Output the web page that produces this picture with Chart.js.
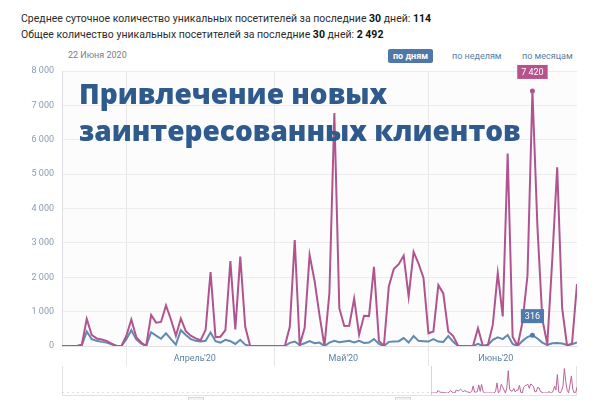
<!DOCTYPE html>
<html>
<head>
<meta charset="utf-8">
<script src="https://cdn.jsdelivr.net/npm/chart.js@4.4.1/dist/chart.umd.min.js"></script>
<style>
  body { margin: 0; width: 600px; height: 400px; background: #fff; position: relative; overflow: hidden; font-family: Roboto, "Open Sans", Arial, sans-serif; }
  .info { position: absolute; left: 21px; font-size: 10.5px; color: #2b2b2b; white-space: nowrap; }
  .info b { color: #111; }
  .date { position: absolute; left: 68px; top: 50px; font-size: 9px; color: #7d7d7d; }
  .btn { position: absolute; top: 49px; height: 14px; line-height: 14px; font-size: 9px; color: #5d7ea3; padding: 0 5px; border-radius: 2px; }
  .btn.on { background: #4f78a8; color: #fff; font-weight: bold; }
  #main { position: absolute; left: 0; top: 0; }
  .title { position: absolute; left: 79px; top: 75px; font-family: "Open Sans", sans-serif; font-weight: 800; font-size: 28px; line-height: 37px; color: #2e5a8d; white-space: nowrap; }
  .nav { position: absolute; left: 62px; top: 366px; width: 515px; height: 30px; border: 1px solid #e2e2e2; border-top: none; box-sizing: border-box; }
  .sel { position: absolute; left: 431px; top: 366px; width: 146px; height: 30px; border-left: 1px solid #d6d6d6; box-sizing: border-box; }
  #mini { position: absolute; left: 62px; top: 366px; }
  .chk { position: absolute; top: 397px; width: 14px; height: 8px; border: 1px solid #d8d8d8; background: #f2f2f2; }
</style>
</head>
<body>
<div class="info" style="top:12px">Среднее суточное количество уникальных посетителей за последние <b>30</b> дней: <b>114</b></div>
<div class="info" style="top:28px">Общее количество уникальных посетителей за последние <b>30</b> дней: <b>2 492</b></div>
<div class="date">22 Июня 2020</div>
<div class="btn on" style="left:388px">по дням</div>
<div class="btn" style="left:447px">по неделям</div>
<div class="btn" style="left:517px">по месяцам</div>

<canvas id="main" width="600" height="400"></canvas>
<div class="nav"></div>
<div class="sel"></div>
<canvas id="mini" width="515" height="30"></canvas>
<div class="chk" style="left:188px"></div>
<div class="chk" style="left:395px"></div>

<div class="title">Привлечение новых<br>заинтересованных клиентов</div>

<script>
// дни с 19 марта по 1 июля 2020
const views = [
  0, 0, 0, 0, 40, 790, 320, 220, 190, 150,
  70, 0, 0, 300, 770, 260, 100, 0, 900, 680,
  700, 1180, 770, 300, 800, 430, 300, 220, 170, 470,
  2150, 260, 270, 460, 2470, 480, 2600, 560, 0, 0,
  0, 0, 0, 0, 0, 0, 560, 3080, 30, 530,
  2650, 1900, 900, 0, 1540, 6780, 1100, 580, 590, 1380,
  330, 880, 870, 2300, 150, 0, 1730, 2240, 2380, 2630,
  1440, 2740, 2400, 1980, 370, 420, 1770, 1530, 420, 290,
  0, 0, 0, 0, 520, 0, 30, 620, 2120, 860,
  5600, 270, 0, 700, 2050, 7420, 3500, 780, 50, 2500,
  5200, 1100, 0, 80, 1800
];
const visitors = [
  0, 0, 0, 0, 20, 420, 200, 150, 120, 100,
  50, 0, 0, 200, 460, 190, 70, 0, 400, 300,
  210, 370, 200, 40, 460, 320, 200, 150, 130, 150,
  390, 140, 100, 180, 140, 60, 180, 40, 0, 0,
  0, 0, 0, 0, 0, 0, 90, 130, 30, 80,
  140, 80, 100, 0, 100, 150, 110, 130, 150, 100,
  150, 90, 100, 200, 60, 0, 120, 130, 140, 230,
  100, 290, 150, 140, 130, 200, 130, 120, 290, 120,
  0, 0, 0, 0, 60, 0, 30, 180, 250, 200,
  320, 60, 0, 150, 260, 316, 220, 100, 30, 80,
  90, 70, 30, 50, 100
];
// более ранний период на мини-графике (дни до 19 марта)
const historyDays = [-263, 0];
const historyViews = [0, 0];

const monthStarts = [13, 43, 74];           // 1 апреля, 1 мая, 1 июня
const monthLabelPos = [26.8, 56.8, 87.6];
const monthLabels = ["Апрель'20", "Май'20", "Июнь'20"];
const hoverIndex = 95;                      // 22 июня

const pink = '#b0548f';
const blue = '#6389b0';

const fmt = v => String(v).replace(/\B(?=(\d{3})+(?!\d))/g, ' ');

// фон области графика и подписи над точками выбранного дня
const hoverLabels = {
  id: 'hoverLabels',
  beforeDraw(chart) {
    const { ctx, chartArea: a } = chart;
    ctx.save();
    ctx.fillStyle = '#fcfcfd';
    ctx.fillRect(a.left, a.top, a.right - a.left, a.bottom - a.top);
    ctx.restore();
  },
  afterDatasetsDraw(chart) {
    const { ctx, scales } = chart;
    const x = scales.x.getPixelForValue(hoverIndex);
    const boxes = [
      { v: views[hoverIndex], c: '#b8528f' },
      { v: visitors[hoverIndex], c: '#4f7aab' }
    ];
    ctx.save();
    ctx.font = '9px Roboto, Arial, sans-serif';
    ctx.textAlign = 'center';
    ctx.textBaseline = 'middle';
    boxes.forEach(b => {
      const y = scales.y.getPixelForValue(b.v);
      const t = fmt(b.v);
      const w = ctx.measureText(t).width + 8;
      const h = 14;
      const by = y - 12 - h;
      ctx.fillStyle = b.c;
      ctx.fillRect(x - w / 2, by, w, h);
      ctx.fillStyle = '#fff';
      ctx.fillText(t, x, by + h / 2 + 0.5);
    });
    ctx.restore();
  }
};

new Chart(document.getElementById('main').getContext('2d'), {
  type: 'line',
  data: {
    datasets: [{
      label: 'Просмотры',
      data: views.map((v, i) => ({ x: i, y: v })),
      borderColor: pink,
      borderWidth: 2,
      pointRadius: c => c.dataIndex === hoverIndex ? 2.5 : 0,
      pointBackgroundColor: pink,
      pointBorderWidth: 0,
      tension: 0
    }, {
      label: 'Уникальные посетители',
      data: visitors.map((v, i) => ({ x: i, y: v })),
      borderColor: blue,
      borderWidth: 2,
      pointRadius: c => c.dataIndex === hoverIndex ? 2.5 : 0,
      pointBackgroundColor: '#4f7aab',
      pointBorderWidth: 0,
      tension: 0
    }]
  },
  options: {
    responsive: false,
    animation: false,
    layout: { padding: { top: 71, right: 23, left: 0, bottom: 0 } },
    plugins: { legend: { display: false }, tooltip: { enabled: false } },
    scales: {
      x: {
        type: 'linear',
        min: 0,
        max: 104,
        afterBuildTicks: s => {
          s.ticks = monthStarts.concat(monthLabelPos).sort((a, b) => a - b).map(v => ({ value: v }));
        },
        afterFit: s => { s.height = 54; },
        grid: {
          color: c => monthStarts.includes(c.tick && c.tick.value) ? '#e6e6e9' : 'rgba(0,0,0,0)',
          tickLength: 20
        },
        border: { color: '#e2e2e6' },
        ticks: {
          padding: -13,
          maxRotation: 0,
          autoSkip: false,
          color: '#5f80a6',
          font: { size: 9, family: 'Roboto, Arial, sans-serif' },
          callback: v => {
            const k = monthLabelPos.indexOf(v);
            return k >= 0 ? monthLabels[k] : '';
          }
        }
      },
      y: {
        min: 0,
        max: 8000,
        afterFit: s => { s.width = 62; },
        grid: { color: '#ececef', drawTicks: false },
        border: { color: '#dcdce2' },
        ticks: {
          stepSize: 1000,
          padding: 8,
          color: '#8b9bb0',
          font: { size: 9, family: 'Roboto, Arial, sans-serif' },
          callback: v => fmt(v)
        }
      }
    }
  },
  plugins: [hoverLabels]
});

// мини-график навигатора
new Chart(document.getElementById('mini').getContext('2d'), {
  type: 'line',
  data: {
    datasets: [{
      data: historyDays.map((d, i) => ({ x: d, y: historyViews[i] })),
      borderColor: 'rgba(150,130,160,0.5)',
      borderWidth: 1,
      borderDash: [2, 3],
      pointRadius: 0
    }, {
      data: views.map((v, i) => ({ x: i, y: v })),
      borderColor: '#b9649a',
      borderWidth: 1,
      pointRadius: 0,
      tension: 0
    }]
  },
  options: {
    responsive: false,
    animation: false,
    layout: { padding: { top: 2, bottom: 3, left: 0, right: 0 } },
    plugins: { legend: { display: false }, tooltip: { enabled: false } },
    scales: {
      x: { type: 'linear', min: -263, max: 104, display: false },
      y: { min: 0, max: 7600, display: false }
    }
  }
});
</script>
</body>
</html>
